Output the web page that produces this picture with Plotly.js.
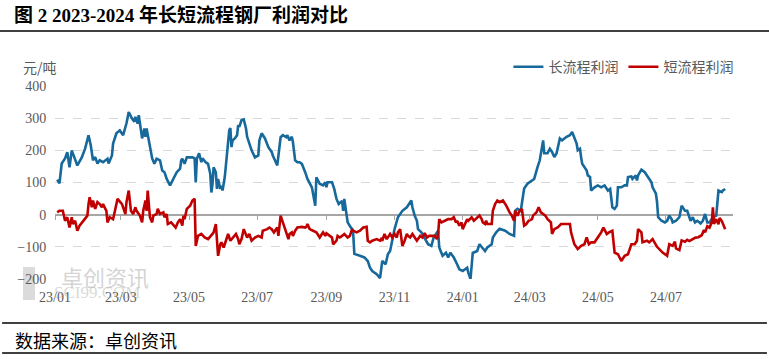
<!DOCTYPE html>
<html>
<head>
<meta charset="utf-8">
<script src="https://cdn.plot.ly/plotly-3.0.1.min.js"></script>
<style>html,body{margin:0;padding:0;background:#fff;}#chart{width:769px;height:359px;}</style>
</head>
<body>
<div id="chart"></div>
<script>
// ---- data ----
const longDates = ["2023-01-03","2023-01-05","2023-01-07","2023-01-10","2023-01-12","2023-01-14","2023-01-16","2023-01-19","2023-01-21","2023-01-25","2023-01-28","2023-01-31","2023-02-02","2023-02-04","2023-02-06","2023-02-08","2023-02-10","2023-02-13","2023-02-17","2023-02-18","2023-02-21","2023-02-22","2023-02-25","2023-02-28","2023-03-03","2023-03-06","2023-03-08","2023-03-11","2023-03-13","2023-03-14","2023-03-16","2023-03-17","2023-03-20","2023-03-22","2023-03-23","2023-03-24","2023-03-26","2023-03-29","2023-03-31","2023-04-02","2023-04-05","2023-04-07","2023-04-09","2023-04-11","2023-04-14","2023-04-17","2023-04-20","2023-04-23","2023-04-24","2023-04-25","2023-04-27","2023-04-29","2023-05-02","2023-05-04","2023-05-06","2023-05-07","2023-05-08","2023-05-10","2023-05-12","2023-05-13","2023-05-16","2023-05-18","2023-05-20","2023-05-21","2023-05-22","2023-05-23","2023-05-25","2023-05-26","2023-05-27","2023-05-29","2023-05-30","2023-05-31","2023-06-02","2023-06-04","2023-06-06","2023-06-07","2023-06-08","2023-06-09","2023-06-11","2023-06-13","2023-06-14","2023-06-15","2023-06-17","2023-06-19","2023-06-21","2023-06-22","2023-06-24","2023-06-26","2023-06-29","2023-07-02","2023-07-03","2023-07-05","2023-07-08","2023-07-11","2023-07-14","2023-07-15","2023-07-19","2023-07-20","2023-07-22","2023-07-24","2023-07-27","2023-07-28","2023-07-30","2023-08-01","2023-08-02","2023-08-04","2023-08-06","2023-08-08","2023-08-10","2023-08-13","2023-08-15","2023-08-19","2023-08-22","2023-08-23","2023-08-26","2023-08-29","2023-08-31","2023-09-01","2023-09-02","2023-09-06","2023-09-08","2023-09-10","2023-09-12","2023-09-15","2023-09-16","2023-09-17","2023-09-19","2023-09-20","2023-09-22","2023-09-24","2023-09-25","2023-09-26","2023-10-01","2023-10-05","2023-10-08","2023-10-10","2023-10-12","2023-10-16","2023-10-19","2023-10-20","2023-10-21","2023-10-24","2023-10-26","2023-10-28","2023-10-30","2023-11-01","2023-11-04","2023-11-08","2023-11-12","2023-11-14","2023-11-16","2023-11-17","2023-11-19","2023-11-21","2023-11-22","2023-11-25","2023-11-28","2023-12-01","2023-12-04","2023-12-06","2023-12-09","2023-12-10","2023-12-11","2023-12-14","2023-12-17","2023-12-19","2023-12-21","2023-12-24","2023-12-27","2023-12-29","2024-01-01","2024-01-05","2024-01-06","2024-01-08","2024-01-10","2024-01-14","2024-01-16","2024-01-18","2024-01-21","2024-01-23","2024-01-27","2024-01-28","2024-01-31","2024-02-03","2024-02-08","2024-02-12","2024-02-16","2024-02-17","2024-02-19","2024-02-22","2024-02-23","2024-02-25","2024-02-28","2024-03-03","2024-03-05","2024-03-08","2024-03-10","2024-03-12","2024-03-13","2024-03-14","2024-03-17","2024-03-19","2024-03-21","2024-03-23","2024-03-25","2024-03-28","2024-03-30","2024-04-03","2024-04-06","2024-04-08","2024-04-10","2024-04-12","2024-04-13","2024-04-15","2024-04-16","2024-04-17","2024-04-21","2024-04-22","2024-04-24","2024-04-25","2024-04-28","2024-05-01","2024-05-04","2024-05-07","2024-05-10","2024-05-12","2024-05-14","2024-05-16","2024-05-18","2024-05-19","2024-05-22","2024-05-25","2024-05-27","2024-05-28","2024-05-31","2024-06-01","2024-06-04","2024-06-05","2024-06-06","2024-06-09","2024-06-12","2024-06-14","2024-06-18","2024-06-19","2024-06-22","2024-06-23","2024-06-24","2024-06-27","2024-06-30","2024-07-02","2024-07-04","2024-07-06","2024-07-07","2024-07-10","2024-07-13","2024-07-15","2024-07-18","2024-07-20","2024-07-23","2024-07-25","2024-07-27","2024-07-29","2024-08-01","2024-08-03","2024-08-05","2024-08-07","2024-08-09","2024-08-12","2024-08-15","2024-08-17","2024-08-20","2024-08-21","2024-08-23"];
const longProfit = [109,97,159,175,194,147,200,175,153,178,206,247,216,169,179,159,169,163,174,159,184,221,253,262,247,284,319,299,289,304,283,309,237,268,242,268,226,175,158,174,169,137,132,111,91,112,132,143,169,174,158,178,179,178,175,100,174,191,163,175,163,158,127,69,95,147,132,80,111,80,90,75,117,200,262,269,210,231,237,247,278,273,294,296,268,242,221,200,178,184,231,253,237,210,195,184,153,179,241,247,241,247,231,242,226,169,163,163,158,132,111,85,28,116,96,91,101,85,101,101,80,49,33,43,12,49,2,-24,-35,-45,-60,-122,-128,-133,-144,-165,-175,-185,-197,-165,-144,-154,-123,-113,-81,-45,-8,12,23,33,44,23,-3,-19,-45,-55,-76,-92,-97,-71,-55,-50,-102,-128,-118,-133,-118,-133,-154,-170,-175,-165,-180,-200,-119,-113,-92,-102,-113,-102,-92,-71,-55,-44,-50,-60,-66,12,18,12,33,81,96,106,111,148,169,210,231,191,191,205,195,179,190,237,231,242,247,257,237,221,200,205,179,158,137,122,117,75,85,91,85,91,75,80,23,18,28,85,85,91,91,117,119,111,122,106,122,140,132,122,101,85,65,39,-8,-19,-24,-19,-3,-14,-24,-19,-8,28,12,12,-19,-8,-24,-19,-27,-19,2,-24,-24,-8,-3,75,70,75,80];

const shortDates = ["2023-01-03","2023-01-05","2023-01-08","2023-01-10","2023-01-12","2023-01-13","2023-01-14","2023-01-16","2023-01-17","2023-01-19","2023-01-21","2023-01-23","2023-01-26","2023-01-30","2023-01-31","2023-02-01","2023-02-03","2023-02-04","2023-02-06","2023-02-08","2023-02-10","2023-02-12","2023-02-13","2023-02-16","2023-02-17","2023-02-19","2023-02-22","2023-02-25","2023-02-26","2023-03-02","2023-03-05","2023-03-06","2023-03-08","2023-03-10","2023-03-12","2023-03-14","2023-03-15","2023-03-18","2023-03-20","2023-03-21","2023-03-23","2023-03-24","2023-03-25","2023-03-27","2023-03-29","2023-03-30","2023-04-02","2023-04-03","2023-04-05","2023-04-08","2023-04-09","2023-04-11","2023-04-12","2023-04-15","2023-04-17","2023-04-19","2023-04-21","2023-04-23","2023-04-25","2023-04-26","2023-04-27","2023-04-29","2023-05-02","2023-05-04","2023-05-06","2023-05-07","2023-05-09","2023-05-12","2023-05-15","2023-05-18","2023-05-22","2023-05-23","2023-05-25","2023-05-27","2023-05-29","2023-05-30","2023-06-01","2023-06-04","2023-06-05","2023-06-07","2023-06-09","2023-06-12","2023-06-14","2023-06-15","2023-06-17","2023-06-19","2023-06-22","2023-06-24","2023-06-26","2023-06-29","2023-07-02","2023-07-05","2023-07-06","2023-07-10","2023-07-12","2023-07-14","2023-07-16","2023-07-19","2023-07-20","2023-07-22","2023-07-24","2023-07-26","2023-07-28","2023-07-29","2023-07-30","2023-08-01","2023-08-02","2023-08-04","2023-08-06","2023-08-10","2023-08-13","2023-08-14","2023-08-15","2023-08-17","2023-08-20","2023-08-23","2023-08-24","2023-08-26","2023-08-28","2023-08-29","2023-08-31","2023-09-01","2023-09-04","2023-09-06","2023-09-07","2023-09-10","2023-09-11","2023-09-13","2023-09-15","2023-09-17","2023-09-20","2023-09-22","2023-09-24","2023-09-25","2023-09-28","2023-10-01","2023-10-04","2023-10-07","2023-10-08","2023-10-10","2023-10-12","2023-10-16","2023-10-19","2023-10-20","2023-10-21","2023-10-23","2023-10-25","2023-10-26","2023-10-28","2023-10-30","2023-11-01","2023-11-03","2023-11-04","2023-11-06","2023-11-07","2023-11-08","2023-11-10","2023-11-12","2023-11-13","2023-11-15","2023-11-17","2023-11-19","2023-11-21","2023-11-22","2023-11-24","2023-11-26","2023-11-28","2023-11-30","2023-12-02","2023-12-04","2023-12-07","2023-12-09","2023-12-10","2023-12-11","2023-12-13","2023-12-16","2023-12-19","2023-12-22","2023-12-24","2023-12-26","2023-12-27","2023-12-29","2023-12-31","2024-01-01","2024-01-03","2024-01-05","2024-01-06","2024-01-09","2024-01-11","2024-01-14","2024-01-16","2024-01-18","2024-01-19","2024-01-21","2024-01-22","2024-01-23","2024-01-27","2024-01-28","2024-01-30","2024-02-01","2024-02-03","2024-02-06","2024-02-09","2024-02-12","2024-02-14","2024-02-16","2024-02-17","2024-02-19","2024-02-21","2024-02-23","2024-02-25","2024-02-27","2024-02-29","2024-03-03","2024-03-04","2024-03-07","2024-03-09","2024-03-11","2024-03-13","2024-03-15","2024-03-17","2024-03-20","2024-03-21","2024-03-23","2024-03-26","2024-03-29","2024-04-01","2024-04-06","2024-04-07","2024-04-10","2024-04-13","2024-04-16","2024-04-19","2024-04-21","2024-04-23","2024-04-25","2024-04-28","2024-05-01","2024-05-04","2024-05-06","2024-05-09","2024-05-11","2024-05-14","2024-05-16","2024-05-19","2024-05-22","2024-05-25","2024-05-28","2024-05-31","2024-06-03","2024-06-05","2024-06-06","2024-06-09","2024-06-10","2024-06-14","2024-06-16","2024-06-19","2024-06-23","2024-06-25","2024-06-28","2024-07-01","2024-07-02","2024-07-04","2024-07-07","2024-07-09","2024-07-10","2024-07-13","2024-07-15","2024-07-18","2024-07-20","2024-07-22","2024-07-25","2024-07-27","2024-07-30","2024-08-02","2024-08-04","2024-08-05","2024-08-07","2024-08-09","2024-08-11","2024-08-12","2024-08-13","2024-08-15","2024-08-17","2024-08-18","2024-08-20","2024-08-21","2024-08-23"];
const shortProfit = [7,12,12,-19,-8,-24,-40,-8,-29,-19,-50,-34,-19,-3,33,54,23,44,18,39,33,23,33,12,-24,-8,-14,28,49,33,2,39,75,12,2,23,12,-3,-24,12,44,12,75,-8,-24,-3,2,18,2,7,-8,2,-29,-24,-34,-40,-24,-14,-34,-3,-14,18,28,44,49,-97,-66,-60,-71,-76,-60,-55,-29,-128,-92,-86,-102,-71,-60,-81,-71,-60,-76,-92,-76,-45,-71,-60,-81,-71,-66,-71,-50,-45,-40,-45,-55,-40,-66,-3,-24,-45,-71,-76,-60,-55,-66,-50,-40,-38,-40,-38,-29,-45,-50,-55,-60,-71,-60,-55,-66,-58,-66,-71,-92,-81,-66,-71,-66,-60,-71,-66,-45,-50,-55,-50,-40,-38,-81,-86,-81,-76,-81,-76,-81,-60,-76,-71,-60,-71,-60,-71,-55,-45,-71,-97,-81,-60,-66,-71,-60,-71,-81,-76,-66,-71,-57,-71,-66,-66,-66,-76,-60,-14,-24,-19,-14,-14,-8,-24,-19,-34,-24,-45,-29,-14,-19,-8,-19,-11,-3,-14,-24,-29,-19,-29,-29,12,33,44,39,44,28,7,-3,-19,12,-3,12,18,-34,-29,-19,-14,-3,7,23,7,2,-3,-14,-24,-60,-45,-40,-29,-29,-29,-55,-92,-107,-97,-92,-71,-92,-86,-86,-71,-55,-40,-60,-55,-50,-118,-123,-144,-128,-123,-92,-92,-81,-45,-55,-86,-81,-86,-76,-100,-107,-118,-125,-128,-92,-97,-84,-105,-110,-80,-84,-78,-82,-75,-72,-70,-64,-48,-55,-36,-40,-24,23,-29,-14,-30,-10,-20,-28,-45];

const seriesNames = ["长流程利润", "短流程利润"];
const tickDates = ["2023-01-01","2023-03-01","2023-05-01","2023-07-01","2023-09-01","2023-11-01","2024-01-01","2024-03-01","2024-05-01","2024-07-01"];
const tickLabels = ["23/01","23/03","23/05","23/07","23/09","23/11","24/01","24/03","24/05","24/07"];
const xRange = ["2023-01-01","2024-08-30"];
const yMin = -200, yMax = 400, yStep = 100;

const titleText = "图 2 2023-2024 年长短流程钢厂利润对比";
const unitText = "元/吨";
const sourceText = "数据来源：卓创资讯";

// ---- styles ----
const blue = "#17699b";
const red = "#c00000";
const grey = "#595959";
const serif = "Liberation Serif, 'Times New Roman', 'Noto Sans CJK SC', serif";
const cjk = "'Noto Sans CJK SC', sans-serif";

const zeroPos = (0 - yMin) / (yMax - yMin);

const traces = [
  {x: longDates, y: longProfit, name: seriesNames[0], type: "scatter", mode: "lines",
   line: {color: blue, width: 2.6}},
  {x: shortDates, y: shortProfit, name: seriesNames[1], type: "scatter", mode: "lines",
   line: {color: red, width: 2.6}},
  {x: [], y: [], xaxis: "x2", showlegend: false, hoverinfo: "skip"}
];

const layout = {
  width: 769, height: 359,
  margin: {l: 55, r: 36, t: 86, b: 80},
  paper_bgcolor: "#fff", plot_bgcolor: "#fff",
  showlegend: true,
  title: {
    text: "<b>" + titleText + "</b>",
    font: {family: serif, size: 19, color: "#000"},
    x: 14 / 769, xref: "container", xanchor: "left",
    y: 1 - 15 / 359, yref: "container", yanchor: "middle"
  },
  legend: {
    orientation: "h", x: 1.008, xanchor: "right", y: 1.098, yanchor: "middle",
    font: {family: cjk, size: 14, color: grey}, bgcolor: "rgba(0,0,0,0)",
    itemwidth: 30, tracegroupgap: 0
  },
  xaxis: {
    type: "date", range: xRange,
    tickvals: tickDates, ticktext: tickLabels,
    showgrid: false, zeroline: false, showline: false,
    ticks: "outside", ticklen: 5, tickcolor: "rgba(0,0,0,0)",
    tickfont: {family: serif, size: 14, color: grey}
  },
  xaxis2: {
    type: "date", range: xRange, overlaying: "x", anchor: "free", position: zeroPos,
    tickvals: tickDates, showticklabels: false,
    showgrid: false, zeroline: false, showline: false,
    ticks: "outside", ticklen: 4, tickwidth: 1, tickcolor: "#a6a6a6"
  },
  yaxis: {
    range: [yMin, yMax], dtick: yStep, tick0: 0,
    showgrid: true, gridcolor: "#d9d9d9", gridwidth: 1, griddash: "dash",
    zeroline: true, zerolinecolor: "#a6a6a6", zerolinewidth: 2,
    showline: false, ticks: "outside", ticklen: 5, tickcolor: "rgba(0,0,0,0)",
    tickfont: {family: serif, size: 14, color: grey}
  },
  shapes: [
    {type: "line", xref: "paper", yref: "paper", x0: -0.082, x1: 1.054, y0: 1.285, y1: 1.285, line: {color: "#000", width: 1.5}},
    {type: "line", xref: "paper", yref: "paper", x0: -0.078, x1: 1.050, y0: -0.228, y1: -0.228, line: {color: "#000", width: 1.5}},
    {type: "line", xref: "paper", yref: "paper", x0: -0.078, x1: 1.050, y0: -0.383, y1: -0.383, line: {color: "#000", width: 1.5}},
    {type: "rect", xref: "paper", yref: "paper", x0: -0.0472, x1: -0.0295, y0: -0.109, y1: 0.062, line: {width: 0}, fillcolor: "rgba(190,190,190,0.55)", layer: "below"}
  ],
  annotations: [
    {text: unitText, xref: "paper", yref: "paper", x: -0.0221, y: 1.098, xanchor: "center", yanchor: "middle",
     showarrow: false, font: {family: cjk, size: 14, color: grey}},
    {text: sourceText, xref: "paper", yref: "paper", x: (13 - 55) / 678, y: -0.316, xanchor: "left", yanchor: "middle",
     showarrow: false, font: {family: cjk, size: 18, color: "#000"}},
    {text: "卓创资讯", xref: "paper", yref: "paper", x: 0.0737, y: 0.0155, xanchor: "center", yanchor: "middle",
     showarrow: false, font: {family: cjk, size: 22, color: "rgba(170,170,170,0.5)"}},
    {text: "SCI99.COM", xref: "paper", yref: "paper", x: 0.062, y: -0.0725, xanchor: "center", yanchor: "middle",
     showarrow: false, font: {family: serif, size: 17, color: "rgba(170,170,170,0.45)"}}
  ]
};

Plotly.newPlot("chart", traces, layout, {displayModeBar: false, staticPlot: true});
</script>
</body>
</html>
